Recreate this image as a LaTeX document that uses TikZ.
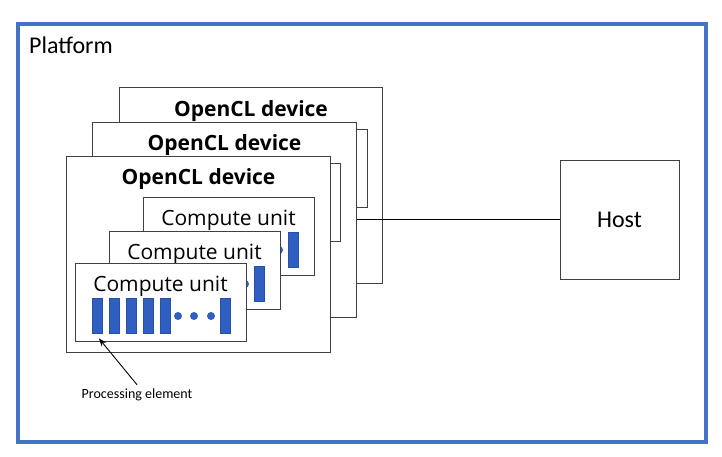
\documentclass[tikz,border=0pt]{standalone}
\usepackage{fontspec}
\setmainfont{Carlito}
\newfontfamily\segfont{Open Sans}
\usepackage{tikz}
\usetikzlibrary{arrows.meta,positioning}
\definecolor{platblue}{RGB}{68,114,196}
\definecolor{peblue}{RGB}{47,95,192}

\tikzset{
  devbox/.style={draw=black!75, fill=white, line width=1pt, anchor=north west, inner sep=0},
  devtitle/.style={font=\segfont\bfseries\fontsize{21}{24}\selectfont, inner sep=0},
  cubox/.style={draw=black!75, fill=white, line width=1pt, minimum width=171, minimum height=78, anchor=north west, inner sep=0},
  cutext/.style={font=\segfont\fontsize{21}{24}\selectfont, inner sep=0},
  pebar/.style={fill=peblue, draw=peblue!85!black, line width=0.4pt, minimum width=9.5, minimum height=35, inner sep=0, anchor=north west},
  hostbox/.style={draw=black!75, fill=white, line width=1pt, minimum size=119, inner sep=0, font=\fontsize{24}{28}\selectfont},
  cuunit/.pic={
    \node[cubox] (-box) at (0,0) {};
    \node[cutext] (-text) at (85.5,23.5) {Compute unit};
    \foreach \i in {0,...,4}
      \node[pebar] (-bar\i) at (17+17*\i,35) {};
    \foreach \j in {103,119,136}
      \fill[peblue] (\j,53) circle (4pt);
    \node[pebar] (-barn) at (145,35) {};
  }
}

\begin{document}
\begin{tikzpicture}[x=1pt,y=-1pt]
  \useasboundingbox (0,0) rectangle (722,456);

  % platform frame
  \draw[platblue, line width=4pt] (18,24) rectangle (706,441.5);
  \node[anchor=west, inner sep=0, font=\fontsize{24}{28}\selectfont] (platform) at (29,45) {Platform};

  % stacked devices
  \node[devbox, minimum width=263, minimum height=196] (dev3) at (119,87) {};
  \node[devtitle] (title3) at ([yshift=-24pt]dev3.north) {OpenCL device};
  \draw[black!75, fill=white, line width=1pt] (340,129) rectangle (367,207);
  \node[devbox, minimum width=264, minimum height=195] (dev2) at (92,122) {};
  \node[devtitle] (title2) at ([yshift=-23pt]dev2.north) {OpenCL device};
  \draw[black!75, fill=white, line width=1pt] (320,163) rectangle (340,241);
  \node[devbox, minimum width=264, minimum height=196] (dev1) at (66,156) {};
  \node[devtitle] (title1) at ([yshift=-23pt]dev1.north) {OpenCL device};

  % compute units
  \pic (cuC) at (143,197) {cuunit};
  \pic (cuB) at (109,231) {cuunit};
  \pic (cuA) at (75,263) {cuunit};

  % host
  \node[hostbox] (host) at (619.5,219.5) {Host};
  \draw[line width=0.9pt] (dev2.east |- host.west) -- (host.west);

  % processing element
  \node[inner sep=0, font=\fontsize{14}{16}\selectfont] (pe) at (137,395) {Processing element};
  \draw[line width=0.9pt, -{Stealth[length=8pt,width=6pt]}] ([yshift=4pt]pe.north) -- ([shift={(2pt,-5pt)}]cuA-bar0.south);
\end{tikzpicture}
\end{document}
